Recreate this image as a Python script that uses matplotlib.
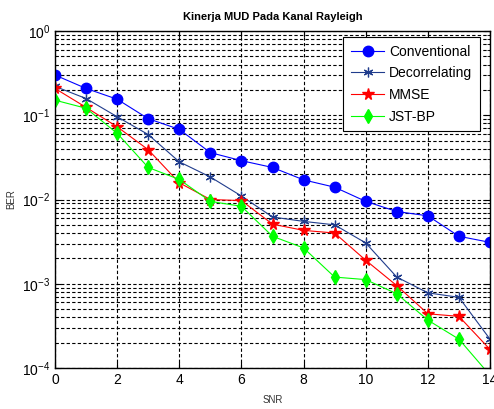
import matplotlib
matplotlib.use("Agg")
import matplotlib.pyplot as plt
import numpy as np
from matplotlib.ticker import LogLocator, FixedLocator, NullFormatter

plt.rcParams['font.family'] = ['Liberation Sans', 'DejaVu Sans']

snr = list(range(0, 15))
conventional = [0.30, 0.208, 0.155, 0.091, 0.068, 0.036, 0.0289, 0.024, 0.0171, 0.014,
                0.0095, 0.0072, 0.0064, 0.00366, 0.0031]
decorrelating = [0.22, 0.158, 0.096, 0.059, 0.028, 0.0185, 0.011, 0.0062, 0.0055, 0.005,
                 0.00305, 0.0012, 0.00078, 0.00069, 0.00022]
mmse = [0.208, 0.124, 0.073, 0.039, 0.0158, 0.0100, 0.0097, 0.0051, 0.0043, 0.004,
        0.0019, 0.00095, 0.00044, 0.00041, 0.000166]
jstbp = [0.151, 0.121, 0.061, 0.024, 0.0173, 0.0095, 0.0083, 0.00366, 0.00266, 0.0012,
         0.00112, 0.00076, 0.00037, 0.00022, 0.000082]

fig = plt.figure(figsize=(4.94, 4.09), dpi=100)
ax = fig.add_axes([55/494, 1-368/409, 435/494, 337/409])

ax.semilogy(snr, conventional, '-o', color='#0000ff', lw=0.8, ms=7.5, label='Conventional')
ax.semilogy(snr, decorrelating, '-', color='#203c8c', lw=0.8, marker=(6, 2, 0), ms=7,
            mew=0.9, label='Decorrelating')
ax.semilogy(snr, mmse, '-*', color='#ff0000', lw=0.8, ms=8.5, label='MMSE')
ax.semilogy(snr, jstbp, '-d', color='#00ff00', lw=0.8, ms=7.5, label='JST-BP')

ax.set_xlim(0, 14)
ax.set_ylim(1e-4, 1)
ax.set_xticks(range(0, 15, 2))
ax.yaxis.set_major_locator(LogLocator(base=10, numticks=10))
ax.yaxis.set_minor_locator(LogLocator(base=10, subs=np.arange(2, 10), numticks=20))
ax.yaxis.set_minor_formatter(NullFormatter())
ax.grid(True, which='major', axis='both', color='black', ls=(0, (3, 2)), lw=0.8)
ax.grid(True, which='minor', axis='y', color='black', ls=(0, (3, 2)), lw=0.8)
ax.tick_params(which='both', direction='in', top=True, right=True, labelsize=10)
ax.tick_params(which='major', length=4)
ax.tick_params(which='minor', length=2)
for s in ax.spines.values():
    s.set_linewidth(1.0)

ax.set_title('Kinerja MUD Pada Kanal Rayleigh', fontsize=8, fontweight='bold', pad=8)
ax.set_xlabel('SNR', fontsize=7, color='#333333', labelpad=6)
ax.set_ylabel('BER', fontsize=7, color='#333333', labelpad=4)

leg = ax.legend(loc='upper right', bbox_to_anchor=(425/435, 331/337), borderaxespad=0,
                fontsize=10, frameon=True, fancybox=False,
                edgecolor='black', framealpha=1, handlelength=2.4, handletextpad=0.35,
                labelspacing=0.55, borderpad=0.55)
leg.get_frame().set_linewidth(0.8)

fig.savefig('out.png', dpi=100)
